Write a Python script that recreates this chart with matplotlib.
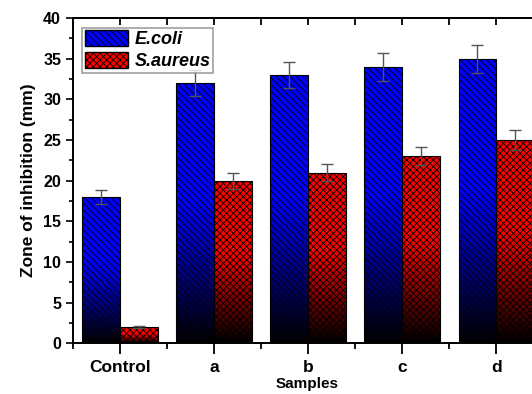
import numpy as np
import matplotlib
matplotlib.use("Agg")
import matplotlib.pyplot as plt
from matplotlib.colors import LinearSegmentedColormap
from matplotlib.patches import Patch
from matplotlib.ticker import MultipleLocator

samples = ["Control", "a", "b", "c", "d"]
ecoli = [18, 32, 33, 34, 35]
ecoli_err = [0.9, 1.6, 1.6, 1.7, 1.7]
saureus = [2, 20, 21, 23, 25]
saureus_err = [0.1, 1.0, 1.0, 1.1, 1.2]

plt.rcParams['font.family'] = ['Liberation Sans', 'DejaVu Sans']
plt.rcParams['font.weight'] = 'bold'
plt.rcParams['hatch.linewidth'] = 0.6

fig = plt.figure(figsize=(5.32, 3.94), dpi=100)
ax = fig.add_axes([0.137, 0.129, 0.884, 0.825])

x = np.arange(len(samples))
w = 0.4
blue_hatch = "\\" * 5
red_hatch = "x" * 5


def gradient_cmap(color):
    # dark at the bottom, full colour over the top half
    return LinearSegmentedColormap.from_list("g", [(0, "black"), (0.55, color), (1, color)])


def gradient_bars(xs, heights, errs, color, hatch):
    bars = ax.bar(xs, heights, w, facecolor="none", edgecolor="black",
                  linewidth=0.8, hatch=hatch, zorder=3)
    cmap = gradient_cmap(color)
    grad = np.linspace(1, 0, 256).reshape(-1, 1)
    for b in bars:
        x0, y0 = b.get_x(), b.get_y()
        im = ax.imshow(grad, cmap=cmap, aspect="auto", zorder=2,
                       extent=[x0, x0 + b.get_width(), y0, y0 + b.get_height()])
        im.set_clip_path(b)
    ax.errorbar(xs, heights, yerr=errs, fmt="none", ecolor="#555555",
                elinewidth=1, capsize=4, capthick=1, zorder=4)
    return bars


gradient_bars(x - w / 2, ecoli, ecoli_err, "#0000ff", blue_hatch)
gradient_bars(x + w / 2, saureus, saureus_err, "#ff0000", red_hatch)

ax.set_xlim(-0.5, 4.5)
ax.set_ylim(0, 40)
ax.set_xticks(x)
ax.set_xticklabels(samples, fontsize=12.5, fontweight="bold")
ax.xaxis.set_minor_locator(MultipleLocator(0.5))
ax.yaxis.set_major_locator(MultipleLocator(5))
ax.yaxis.set_minor_locator(MultipleLocator(2.5))
ax.tick_params(axis="y", which="major", direction="out", length=5, width=1.2, labelsize=11.5)
ax.tick_params(axis="y", which="minor", direction="out", length=3, width=1.2)
ax.tick_params(axis="x", which="major", direction="out", length=8, width=1.3, pad=4)
ax.tick_params(axis="x", which="minor", direction="out", length=4, width=1.3)
for lab in ax.get_yticklabels():
    lab.set_fontweight("bold")
for s in ax.spines.values():
    s.set_linewidth(1.4)

# top axis: ticks pointing inward
top = ax.secondary_xaxis("top")
top.set_xticks(x)
top.xaxis.set_minor_locator(MultipleLocator(0.5))
top.tick_params(which="both", direction="in", length=5, width=1.3, labeltop=False)
top.spines["top"].set_linewidth(1.4)

ax.set_ylabel("Zone of inhibition (mm)", fontsize=12.5, fontweight="bold", labelpad=5)
ax.set_xlabel("Samples", fontsize=11, fontweight="bold")
ax.xaxis.set_label_coords(0.498, -0.103)

handles = [Patch(facecolor="#0000ff", edgecolor="black", hatch=blue_hatch, label="E.coli"),
           Patch(facecolor="#ff0000", edgecolor="black", hatch=red_hatch, label="S.aureus")]
leg = ax.legend(handles=handles, loc="upper left", bbox_to_anchor=(0.012, 0.982),
                prop={"style": "italic", "weight": "bold", "size": 13},
                fancybox=False, edgecolor="#888888", handlelength=2.4, handleheight=0.95,
                borderpad=0.15, labelspacing=0.22, handletextpad=0.35, borderaxespad=0.2)
leg.get_frame().set_linewidth(1.2)

fig.savefig("out.png", dpi=100)
